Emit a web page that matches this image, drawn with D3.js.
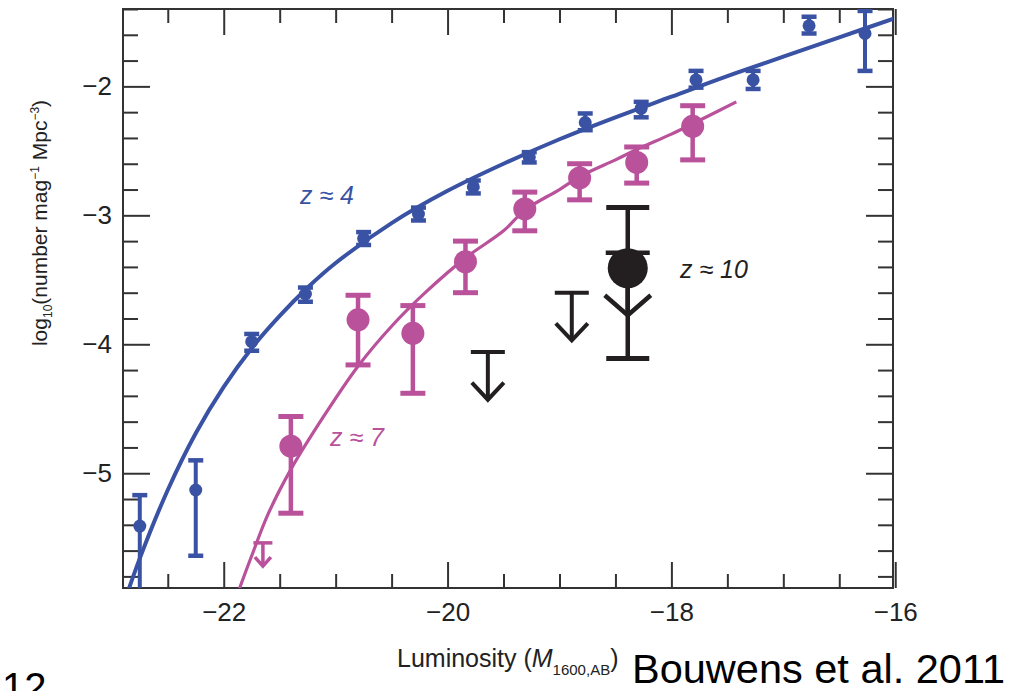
<!DOCTYPE html>
<html>
<head>
<meta charset="utf-8">
<script src="https://cdn.jsdelivr.net/npm/d3@7"></script>
<style>
  body { margin: 0; background: #fff; }
  .narrow { font-family: "Liberation Sans Narrow", "Arial Narrow", "Liberation Sans", Arial, sans-serif; }
  .tick text { font-family: "Liberation Sans Narrow", "Arial Narrow", "Liberation Sans", Arial, sans-serif; }
</style>
</head>
<body>
<script>
// z ~ 4 points (blue)
const z4M   = [-22.75, -22.25, -21.75, -21.27, -20.75, -20.26, -19.77, -19.27, -18.77, -18.27, -17.78, -17.27, -16.77, -16.27]
const z4Phi = [-5.41, -5.13, -3.98, -3.61, -3.18, -2.99, -2.78, -2.55, -2.28, -2.17, -1.95, -1.95, -1.53, -1.59]
const z4Hi  = [-5.17, -4.90, -3.92, -3.56, -3.13, -2.94, -2.73, -2.51, -2.21, -2.12, -1.88, -1.88, -1.46, -1.415]
const z4Lo  = [-6.20, -5.64, -4.05, -3.67, -3.23, -3.04, -2.83, -2.59, -2.34, -2.24, -2.01, -2.02, -1.59, -1.88]

// z ~ 7 points (magenta)
const z7M   = [-21.40, -20.80, -20.31, -19.84, -19.31, -18.82, -18.31, -17.81]
const z7Phi = [-4.79, -3.81, -3.915, -3.36, -2.95, -2.71, -2.59, -2.31]
const z7Hi  = [-4.56, -3.62, -3.70, -3.20, -2.82, -2.60, -2.47, -2.15]
const z7Lo  = [-5.31, -4.16, -4.38, -3.60, -3.12, -2.88, -2.75, -2.57]
const z7LimM = [-21.65]
const z7LimCap = [-5.54]
const z7LimTip = [-5.72]

// z ~ 10 (black)
const z10M   = [-18.39]
const z10Phi = [-3.41]
const z10Hi  = [-2.94]
const z10Lo  = [-4.11]
const z10LimM   = [-19.64, -18.89, -18.39]
const z10LimCap = [-4.06, -3.60, -3.29]
const z10LimTip = [-4.43, -3.97, -3.775]

// fitted luminosity functions
const z4FitM   = [-22.9, -22.75, -22.5, -22.25, -22, -21.75, -21.5, -21.25, -21, -20.5, -20, -19.5, -19, -18.5, -18, -17.5, -17, -16.5, -16]
const z4FitPhi = [-6.03, -5.66, -5.13, -4.69, -4.33, -4.03, -3.78, -3.56, -3.37, -3.06, -2.81, -2.60, -2.41, -2.24, -2.08, -1.92, -1.77, -1.62, -1.47]
const z7FitM   = [-21.9, -21.75, -21.6, -21.4, -21.1, -20.8, -20.5, -20.2, -19.84, -19.5, -19.31, -19.0, -18.82, -18.5, -18.31, -18.0, -17.81, -17.42]
const z7FitPhi = [-5.99, -5.64, -5.31, -4.97, -4.55, -4.17, -3.86, -3.60, -3.33, -3.12, -2.96, -2.80, -2.70, -2.57, -2.49, -2.37, -2.29, -2.12]

const xMajor = [-22, -20, -18, -16]
const yMajor = [-5, -4, -3, -2]

const blue = '#3a52a3'
const magenta = '#b9519b'
const black = '#231f20'

let width = 1026, height = 691
let margins = { top: 9, right: 133, bottom: 103, left: 123 }
let w = width - margins.left - margins.right
let h = height - margins.top - margins.bottom

let x = d3.scaleLinear().domain([-22.9, -16.02]).range([0, w])
let y = d3.scaleLinear().domain([-5.89, -1.40]).range([h, 0])

let svg = d3.select('body').append('svg')
    .attr('width', width)
    .attr('height', height)

let g = svg.append('g')
    .attr('transform', 'translate(' + [margins.left, margins.top] + ')')

g.append('clipPath').attr('id', 'plot')
  .append('rect').attr('width', w).attr('height', h)

let zip = (m, p, hi, lo) => m.map((d, i) => ({ m: d, p: p[i], hi: hi[i], lo: lo[i] }))

// axes: inward ticks on all four sides
let xMinor = d3.range(-22.5, -16.01, 0.5).filter((d) => !xMajor.includes(d))
let yMinor = d3.range(-5.8, -1.39, 0.2).map((d) => +d.toFixed(1)).filter((d) => !yMajor.includes(d))

function addAxis(axisFn, scale, values, size, transform, labels) {
  let a = axisFn(scale).tickValues(values).tickSizeInner(-size).tickSizeOuter(0)
    .tickPadding(axisFn === d3.axisBottom ? 15 : 11)
    .tickFormat(labels ? d3.format('d') : '')
  let ax = g.append('g').attr('transform', transform).call(a)
  ax.select('.domain').remove()
  ax.selectAll('line').attr('stroke', '#333').attr('stroke-width', 2)
  ax.selectAll('text').attr('font-size', 26).attr('fill', '#222')
}

addAxis(d3.axisBottom, x, xMajor, 26, 'translate(0,' + h + ')', true)
addAxis(d3.axisBottom, x, xMinor, 14, 'translate(0,' + h + ')', false)
addAxis(d3.axisTop, x, xMajor, 26, null, false)
addAxis(d3.axisTop, x, xMinor, 14, null, false)
addAxis(d3.axisLeft, y, yMajor, 27, null, true)
addAxis(d3.axisLeft, y, yMinor, 15, null, false)
addAxis(d3.axisRight, y, yMajor, 27, 'translate(' + w + ',0)', false)
addAxis(d3.axisRight, y, yMinor, 15, 'translate(' + w + ',0)', false)

g.append('rect')
  .attr('width', w).attr('height', h)
  .attr('fill', 'none').attr('stroke', '#333').attr('stroke-width', 2)

let plot = g.append('g').attr('clip-path', 'url(#plot)')

let fit = d3.line()
  .x((d) => x(d[0]))
  .y((d) => y(d[1]))
  .curve(d3.curveCatmullRom)

plot.append('path')
  .attr('fill', 'none').attr('stroke', blue).attr('stroke-width', 4)
  .attr('d', fit(d3.zip(z4FitM, z4FitPhi)))

plot.append('path')
  .attr('fill', 'none').attr('stroke', magenta).attr('stroke-width', 3.2)
  .attr('d', fit(d3.zip(z7FitM, z7FitPhi)))

function errorPoints(data, color, r, cap, sw) {
  let pts = plot.append('g').selectAll('g')
      .data(data)
    .enter().append('g')
      .attr('transform', (d) => 'translate(' + x(d.m) + ')')
  pts.append('line')
    .attr('y1', (d) => y(d.lo)).attr('y2', (d) => y(d.hi))
    .attr('stroke', color).attr('stroke-width', sw)
  pts.selectAll('.cap')
      .data((d) => [d.lo, d.hi])
    .enter().append('line')
      .attr('x1', -cap / 2).attr('x2', cap / 2)
      .attr('y1', (d) => y(d)).attr('y2', (d) => y(d))
      .attr('stroke', color).attr('stroke-width', sw + 0.5)
  pts.append('circle')
    .attr('cy', (d) => y(d.p)).attr('r', r)
    .attr('fill', color)
}

function upperLimits(m, cap, tip, color, capW, arm, sw) {
  let lims = plot.append('g').selectAll('g')
      .data(m.map((d, i) => ({ m: d, cap: cap[i], tip: tip[i] })))
    .enter().append('g')
      .attr('transform', (d) => 'translate(' + x(d.m) + ')')
      .attr('fill', 'none').attr('stroke', color).attr('stroke-width', sw)
  lims.append('line')
    .attr('x1', -capW / 2).attr('x2', capW / 2)
    .attr('y1', (d) => y(d.cap)).attr('y2', (d) => y(d.cap))
  lims.append('line')
    .attr('y1', (d) => y(d.cap)).attr('y2', (d) => y(d.tip))
  lims.append('path')
    .attr('d', (d) => 'M' + [-arm[0], y(d.tip) - arm[1]] + 'L' + [0, y(d.tip)] + 'L' + [arm[0], y(d.tip) - arm[1]])
}

errorPoints(zip(z4M, z4Phi, z4Hi, z4Lo), blue, 6.5, 15, 4)
errorPoints(zip(z7M, z7Phi, z7Hi, z7Lo), magenta, 11.5, 25, 4.5)
upperLimits(z7LimM, z7LimCap, z7LimTip, magenta, 19, [8, 9], 3.5)

upperLimits(z10LimM.slice(0, 2), z10LimCap.slice(0, 2), z10LimTip.slice(0, 2), black, 34, [16, 17], 4)
upperLimits(z10LimM.slice(2), z10LimCap.slice(2), z10LimTip.slice(2), black, 44, [23, 20], 4.5)
errorPoints(zip(z10M, z10Phi, z10Hi, z10Lo), black, 20, 43, 4.5)

// redshift labels
let zLabel = (tx, ty, txt, color) => svg.append('text')
  .attr('class', 'narrow')
  .attr('x', tx).attr('y', ty)
  .attr('font-size', 25).attr('font-style', 'italic')
  .attr('fill', color)
  .text(txt)

zLabel(300, 204, 'z ≈ 4', blue)
zLabel(330, 446, 'z ≈ 7', magenta)
zLabel(680, 278, 'z ≈ 10', black)

// axis titles
let yt = svg.append('text')
  .attr('class', 'narrow')
  .attr('transform', 'translate(47,223) rotate(-90)')
  .attr('text-anchor', 'middle')
  .attr('font-size', 21).attr('fill', '#222')
yt.append('tspan').text('log')
yt.append('tspan').attr('font-size', 12).attr('dy', 5).text('10')
yt.append('tspan').attr('dy', -5).text('(number mag')
yt.append('tspan').attr('font-size', 12).attr('dy', -8).text('−1')
yt.append('tspan').attr('dy', 8).text(' Mpc')
yt.append('tspan').attr('font-size', 12).attr('dy', -8).text('−3')
yt.append('tspan').attr('dy', 8).text(')')

let xt = svg.append('text')
  .attr('class', 'narrow')
  .attr('x', 397).attr('y', 667)
  .attr('font-size', 25).attr('fill', '#222')
xt.append('tspan').text('Luminosity (')
xt.append('tspan').attr('font-style', 'italic').text('M')
xt.append('tspan').attr('font-size', 15).attr('dy', 8).text('1600,AB')
xt.append('tspan').attr('dy', -8).text(')')

svg.append('text')
  .attr('x', 632).attr('y', 683)
  .attr('font-family', '"Liberation Sans", Arial, sans-serif')
  .attr('font-size', 41.5).attr('fill', '#000')
  .text('Bouwens et al. 2011')

svg.append('text')
  .attr('x', 2).attr('y', 701)
  .attr('font-family', '"Liberation Sans", Arial, sans-serif')
  .attr('font-size', 40).attr('fill', '#000')
  .text('12')
</script>
</body>
</html>
